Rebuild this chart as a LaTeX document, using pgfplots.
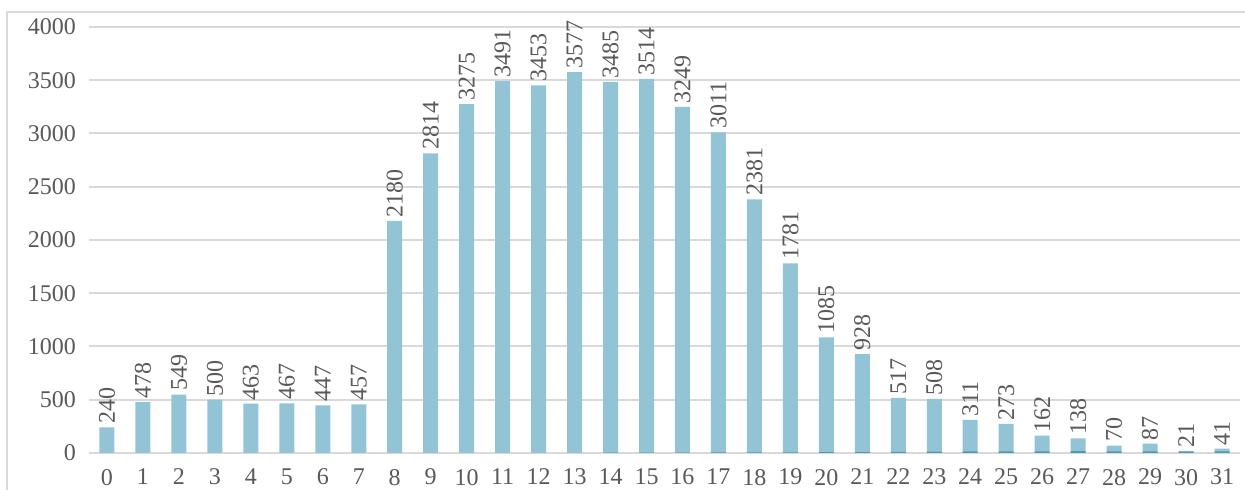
\documentclass[border=0pt]{standalone}
\usepackage{fontspec}
\setmainfont{Liberation Serif}
\usepackage{pgfplots}
\pgfplotsset{compat=1.18}
\definecolor{barblue}{HTML}{92C4D5}
\definecolor{bardark}{HTML}{4A9AB0}
\definecolor{gridgray}{HTML}{D9D9D9}
\definecolor{textgray}{HTML}{595959}
\begin{document}
\begin{tikzpicture}
\useasboundingbox (0,0) rectangle (622.5pt,245pt);
\draw[gridgray, line width=1pt] (3.5pt,0) -- (3.5pt,239pt) -- (622.5pt,239pt);
\begin{axis}[
  at={(44.5pt,18.5pt)}, anchor=south west,
  scale only axis, width=575.5pt, height=213pt,
  xmin=-0.5, xmax=31.5, ymin=0, ymax=4000,
  axis line style={draw=none},
  xtick={0,...,31}, ytick={0,500,...,4000},
  major tick length=0pt,
  ymajorgrids, grid style={gridgray, line width=1pt},
  /pgf/number format/assume math mode=true,
  /pgf/number format/1000 sep={},
  font=\fontsize{12}{14}\selectfont,
  ticklabel style={text=textgray, font=\fontsize{12}{14}\selectfont},
  xticklabel style={yshift=-4.5pt},
  yticklabel style={xshift=-3pt},
  clip=false,
]
\addplot[ybar, bar width=7.5pt, fill=barblue, draw=none,
  nodes near coords, nodes near coords align={vertical},
  every node near coord/.append style={rotate=90, anchor=west, inner sep=1.6pt, text=textgray, font=\fontsize{12}{14}\selectfont, /pgf/number format/assume math mode=true}]
coordinates {
(0,240) (1,478) (2,549) (3,500) (4,463) (5,467) (6,447) (7,457)
(8,2180) (9,2814) (10,3275) (11,3491) (12,3453) (13,3577) (14,3485) (15,3514)
(16,3249) (17,3011) (18,2381) (19,1781) (20,1085) (21,928) (22,517) (23,508)
(24,311) (25,273) (26,162) (27,138) (28,70) (29,87) (30,21) (31,41)
};
\addplot[ybar, bar width=7.5pt, fill=bardark, draw=none]
coordinates {
(14,3) (15,3) (16,3) (17,6) (18,6) (19,6) (20,8) (21,8) (22,10) (23,12)
(24,15) (25,15) (26,15) (27,18) (28,15) (29,15) (30,12) (31,15)
};
\end{axis}
\end{tikzpicture}
\end{document}
